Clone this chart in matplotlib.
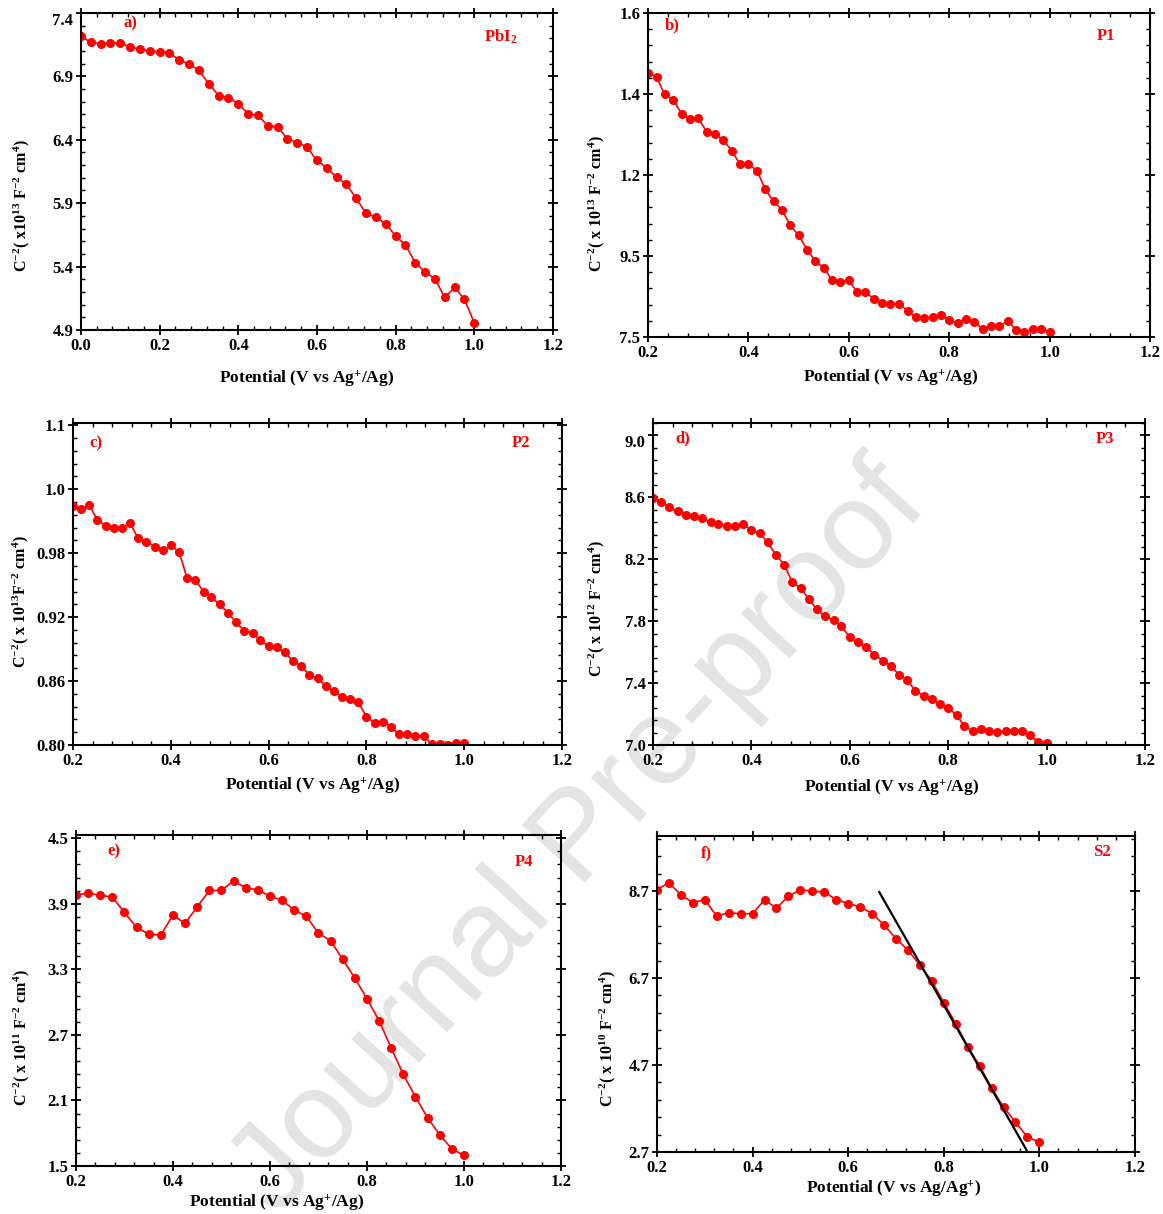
import matplotlib
matplotlib.use("Agg")
import matplotlib.pyplot as plt
from matplotlib.ticker import AutoMinorLocator

plt.rcParams["font.family"] = ["Liberation Serif", "DejaVu Serif"]
plt.rcParams["font.weight"] = "bold"
plt.rcParams["mathtext.fontset"] = "custom"
plt.rcParams["mathtext.rm"] = "Liberation Serif:bold"
plt.rcParams["mathtext.it"] = "Liberation Serif:bold"
plt.rcParams["mathtext.bf"] = "Liberation Serif:bold"
plt.rcParams["mathtext.default"] = "rm"

# potential grids (V)
potential_a = [0.0, 0.025, 0.05, 0.075, 0.1, 0.125, 0.15, 0.175, 0.2, 0.225,
               0.25, 0.275, 0.3, 0.325, 0.35, 0.375, 0.4, 0.425, 0.45, 0.475,
               0.5, 0.525, 0.55, 0.575, 0.6, 0.625, 0.65, 0.675, 0.7, 0.725,
               0.75, 0.775, 0.8, 0.825, 0.85, 0.875, 0.9, 0.925, 0.95, 0.975, 1.0]
potential_fine = [0.2, 0.217, 0.233, 0.25, 0.267, 0.283, 0.3, 0.317, 0.333, 0.35,
                  0.367, 0.383, 0.4, 0.417, 0.433, 0.45, 0.467, 0.483, 0.5, 0.517,
                  0.533, 0.55, 0.567, 0.583, 0.6, 0.617, 0.633, 0.65, 0.667, 0.683,
                  0.7, 0.717, 0.733, 0.75, 0.767, 0.783, 0.8, 0.817, 0.833, 0.85,
                  0.867, 0.883, 0.9, 0.917, 0.933, 0.95, 0.967, 0.983, 1.0]
potential_ef = potential_a[8:]

# C^-2 values
pbi2 = [7.216, 7.169, 7.158, 7.164, 7.164, 7.132, 7.116, 7.101, 7.095, 7.088,
        7.027, 6.998, 6.948, 6.841, 6.749, 6.730, 6.686, 6.604, 6.594, 6.510,
        6.502, 6.407, 6.378, 6.342, 6.237, 6.179, 6.103, 6.050, 5.937, 5.819,
        5.788, 5.738, 5.641, 5.570, 5.430, 5.357, 5.304, 5.157, 5.236, 5.142, 4.958]
p1 = [1.453, 1.442, 1.399, 1.386, 1.351, 1.339, 1.341, 1.306, 1.300, 1.287,
      1.259, 1.227, 1.227, 1.211, 1.166, 1.135, 1.114, 1.076, 1.051, 1.016,
      0.988, 0.971, 0.940, 0.936, 0.940, 0.910, 0.910, 0.895, 0.885, 0.881,
      0.882, 0.865, 0.849, 0.847, 0.850, 0.855, 0.842, 0.834, 0.844, 0.836,
      0.820, 0.827, 0.827, 0.840, 0.817, 0.812, 0.820, 0.820, 0.813]
p2 = [1.0244, 1.0213, 1.0250, 1.0111, 1.0058, 1.0033, 1.0033, 1.0080, 0.9940, 0.9909,
      0.9862, 0.9825, 0.9872, 0.9810, 0.9568, 0.9549, 0.9437, 0.9384, 0.9319, 0.9239,
      0.9152, 0.9071, 0.9049, 0.8981, 0.8925, 0.8916, 0.8869, 0.8785, 0.8742, 0.8658,
      0.8627, 0.8553, 0.8506, 0.8453, 0.8435, 0.8404, 0.8264, 0.8208, 0.8220, 0.8171,
      0.8099, 0.8106, 0.8084, 0.8087, 0.8009, 0.8009, 0.8003, 0.8022, 0.8016]
p3 = [8.598, 8.573, 8.536, 8.511, 8.489, 8.481, 8.464, 8.439, 8.429, 8.417,
      8.412, 8.429, 8.386, 8.367, 8.309, 8.227, 8.165, 8.052, 8.014, 7.942,
      7.876, 7.831, 7.808, 7.767, 7.695, 7.664, 7.633, 7.584, 7.546, 7.513,
      7.454, 7.419, 7.351, 7.320, 7.295, 7.262, 7.241, 7.192, 7.122, 7.089,
      7.103, 7.089, 7.087, 7.089, 7.093, 7.091, 7.062, 7.019, 7.014]
p4 = [3.982, 3.997, 3.979, 3.961, 3.821, 3.684, 3.623, 3.614, 3.797, 3.720,
      3.873, 4.022, 4.022, 4.110, 4.046, 4.028, 3.970, 3.934, 3.842, 3.785,
      3.632, 3.562, 3.392, 3.221, 3.032, 2.831, 2.581, 2.338, 2.134, 1.942,
      1.786, 1.658, 1.597]
s2 = [8.738, 8.892, 8.615, 8.438, 8.508, 8.123, 8.208, 8.177, 8.185, 8.500,
      8.308, 8.585, 8.731, 8.700, 8.677, 8.508, 8.415, 8.338, 8.185, 7.923,
      7.608, 7.346, 7.000, 6.631, 6.138, 5.654, 5.123, 4.685, 4.169, 3.731,
      3.385, 3.046, 2.923]
s2_fit_x = [0.665, 0.978]
s2_fit_y = [8.68, 2.65]

# axis ticks and their printed labels
ticks_a = [4.9, 5.4, 5.9, 6.4, 6.9, 7.4]
labels_a = ["4.9", "5.4", "5.9", "6.4", "6.9", "7.4"]
ticks_b = [0.8, 1.0, 1.2, 1.4, 1.6]
labels_b = ["7.5", "9.5", "1.2", "1.4", "1.6"]
ticks_c = [0.80, 0.86, 0.92, 0.98, 1.04, 1.10]
labels_c = ["0.80", "0.86", "0.92", "0.98", "1.0", "1.1"]
ticks_d = [7.0, 7.4, 7.8, 8.2, 8.6, 9.0]
labels_d = ["7.0", "7.4", "7.8", "8.2", "8.6", "9.0"]
ticks_e = [1.5, 2.1, 2.7, 3.3, 3.9, 4.5]
labels_e = ["1.5", "2.1", "2.7", "3.3", "3.9", "4.5"]
ticks_f = [2.7, 4.7, 6.7, 8.7]
labels_f = ["2.7", "4.7", "6.7", "8.7"]

xlab = "Potential (V vs Ag$^{+}$/Ag)"
panels = [
    dict(x=potential_a, y=pbi2, rect=[0.0696, 0.7282, 0.4058, 0.2611], xlim=(0.0, 1.2),
         ylim=(4.9, 7.4), yt=ticks_a, yl=labels_a, tag="a)", tagpos=(0.104, 0.968),
         name="PbI$_{2}$", namepos=(0.889, 0.924),
         ylabel="C$^{-2}$( x10$^{13}$ F$^{-2}$ cm$^{4}$)", xlabel=xlab,
         ylx=-0.103, yly=0.393, xlx=0.479, xpad=11, toplow=True),
    dict(x=potential_fine, y=p1, rect=[0.5572, 0.7224, 0.4316, 0.2669], xlim=(0.2, 1.2),
         ylim=(0.807, 1.6), yt=ticks_b, yl=labels_b, tag="b)", tagpos=(0.049, 0.963),
         name="P1", namepos=(0.913, 0.929),
         ylabel="C$^{-2}$( x 10$^{13}$ F$^{-2}$ cm$^{4}$)", xlabel=xlab,
         ylx=-0.082, yly=0.41, xlx=0.484, xpad=5, toplow=False),
    dict(x=potential_fine, y=p2, rect=[0.0628, 0.3863, 0.4205, 0.2652], xlim=(0.2, 1.2),
         ylim=(0.80, 1.102), yt=ticks_c, yl=labels_c, tag="c)", tagpos=(0.046, 0.938),
         name="P2", namepos=(0.916, 0.938),
         ylabel="C$^{-2}$( x 10$^{13}$F$^{-2}$ cm$^{4}$)", xlabel=xlab,
         ylx=-0.085, yly=0.444, xlx=0.49, xpad=5, toplow=False),
    dict(x=potential_fine, y=p3, rect=[0.5615, 0.3863, 0.4230, 0.2652], xlim=(0.2, 1.2),
         ylim=(7.0, 9.08), yt=ticks_d, yl=labels_d, tag="d)", tagpos=(0.061, 0.953),
         name="P3", namepos=(0.919, 0.950),
         ylabel="C$^{-2}$( x 10$^{12}$ F$^{-2}$ cm$^{4}$)", xlabel=xlab,
         ylx=-0.093, yly=0.422, xlx=0.484, xpad=6.5, toplow=True),
    dict(x=potential_ef, y=p4, rect=[0.0653, 0.0395, 0.4170, 0.2727], xlim=(0.2, 1.2),
         ylim=(1.5, 4.53), yt=ticks_e, yl=labels_e, tag="e)", tagpos=(0.079, 0.949),
         name="P4", namepos=(0.923, 0.918),
         ylabel="C$^{-2}$( x 10$^{11}$ F$^{-2}$ cm$^{4}$)", xlabel=xlab,
         ylx=-0.090, yly=0.388, xlx=0.413, xpad=2, toplow=False),
    dict(x=potential_ef, y=s2, rect=[0.5649, 0.0511, 0.4110, 0.2603], xlim=(0.2, 1.2),
         ylim=(2.7, 9.97), yt=ticks_f, yl=labels_f, tag="f)", tagpos=(0.103, 0.946),
         name="S2", namepos=(0.930, 0.949),
         ylabel="C$^{-2}$( x 10$^{10}$ F$^{-2}$ cm$^{4}$)",
         xlabel="Potential (V vs Ag/Ag$^{+}$)",
         ylx=-0.082, yly=0.358, xlx=0.496, xpad=2, toplow=False),
]

fig = plt.figure(figsize=(11.63, 12.14), dpi=100)
fig.patch.set_facecolor("white")

for p in panels:
    ax = fig.add_axes(p["rect"])
    ax.patch.set_alpha(0)
    ax.plot(p["x"], p["y"], color="red", lw=1.2, marker="o", ms=5.5,
            markerfacecolor="red", markeredgecolor="red")
    ax.set_xlim(*p["xlim"])
    ax.set_ylim(*p["ylim"])
    ax.set_xticks([0.2, 0.4, 0.6, 0.8, 1.0, 1.2] if p["xlim"][0] > 0
                  else [0.0, 0.2, 0.4, 0.6, 0.8, 1.0, 1.2])
    ax.set_yticks(p["yt"])
    ax.set_yticklabels(p["yl"])
    ax.xaxis.set_minor_locator(AutoMinorLocator(5))
    ax.yaxis.set_minor_locator(AutoMinorLocator(5))
    ax.tick_params(which="major", direction="inout", length=7, width=1.3,
                   labelsize=12, top=True, right=True, pad=2)
    ax.tick_params(which="minor", direction="in", length=3, width=1.0,
                   top=True, right=True)
    for lab in ax.get_xticklabels() + ax.get_yticklabels():
        lab.set_fontweight("bold")
    if p["toplow"]:
        ax.get_yticklabels()[-1].set_verticalalignment("top")
    for sp in ax.spines.values():
        sp.set_linewidth(1.5)
    ax.set_xlabel(p["xlabel"], fontsize=12.5, fontweight="bold", labelpad=p["xpad"])
    ax.xaxis.label.set_x(p["xlx"])
    ax.set_ylabel(p["ylabel"], fontsize=11.5, fontweight="bold")
    ax.yaxis.set_label_coords(p["ylx"], p["yly"])
    ax.text(*p["tagpos"], p["tag"], transform=ax.transAxes, color="red",
            fontsize=12, fontweight="bold", ha="center", va="center")
    ax.text(*p["namepos"], p["name"], transform=ax.transAxes, color="red",
            fontsize=12, fontweight="bold", ha="center", va="center")
    if p["tag"] == "f)":
        ax.plot(s2_fit_x, s2_fit_y, color="black", lw=1.6, zorder=3)

fig.text(580 / 1163, 1 - 840 / 1214, "Journal Pre-proof", fontsize=90,
         family="Liberation Sans", fontweight="normal", color="#e4e4e4",
         rotation=47.5, rotation_mode="anchor", ha="center", va="center",
         zorder=-1)

fig.savefig("out.png", dpi=100, facecolor="white")
